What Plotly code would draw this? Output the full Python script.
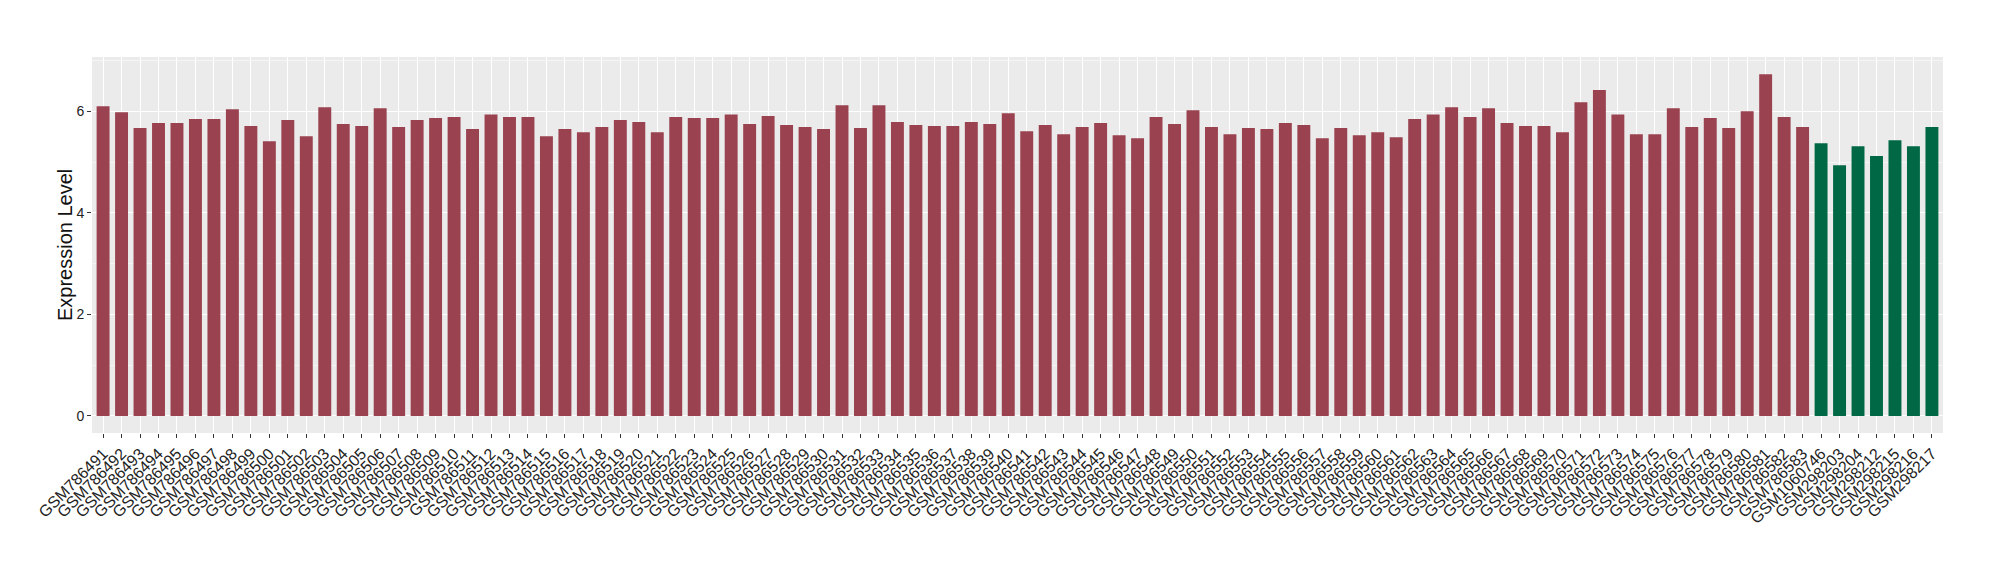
import plotly.graph_objects as go

samples = [f"GSM{n}" for n in range(786491, 786584)] + [
    "GSM1060746", "GSM298203", "GSM298204", "GSM298212", "GSM298215", "GSM298216", "GSM298217"]

values = [
    6.10, 5.98, 5.67, 5.77, 5.77, 5.85, 5.85, 6.04, 5.71, 5.41,
    5.83, 5.51, 6.08, 5.75, 5.71, 6.06, 5.69, 5.83, 5.87, 5.89,
    5.65, 5.94, 5.89, 5.89, 5.51, 5.65, 5.59, 5.69, 5.83, 5.79,
    5.59, 5.89, 5.87, 5.87, 5.94, 5.75, 5.91, 5.73, 5.69, 5.65,
    6.12, 5.67, 6.12, 5.79, 5.73, 5.71, 5.71, 5.79, 5.75, 5.96,
    5.61, 5.73, 5.55, 5.69, 5.77, 5.53, 5.47, 5.89, 5.75, 6.02,
    5.69, 5.55, 5.67, 5.65, 5.77, 5.73, 5.47, 5.67, 5.53, 5.59,
    5.49, 5.85, 5.94, 6.08, 5.89, 6.06, 5.77, 5.71, 5.71, 5.59,
    6.18, 6.42, 5.94, 5.55, 5.55, 6.06, 5.69, 5.87, 5.67, 6.00,
    6.73, 5.89, 5.69,
    5.37, 4.94, 5.31, 5.12, 5.43, 5.31, 5.69,
]

groups = ["A"] * 93 + ["B"] * 7
group_colors = {"A": "#9A4250", "B": "#006845"}
colors = [group_colors[g] for g in groups]

y_title = "Expression Level"

fig = go.Figure(go.Bar(
    x=samples, y=values, marker=dict(color=colors, line=dict(width=0)),
    width=0.7, showlegend=False,
))

font_family = "Liberation Sans, Arial, sans-serif"
# page body has an 8px margin, so the figure is 16px smaller than the window
fig.update_layout(
    width=1984, height=564,
    margin=dict(l=84, r=49, t=49, b=139),
    plot_bgcolor="#EBEBEB", paper_bgcolor="white",
    font=dict(family=font_family, color="#222222"),
    bargap=0.3,
)
fig.update_xaxes(
    type="category", range=[-0.6, len(samples) - 0.4], automargin=False,
    tickmode="linear", tick0=0, dtick=1,
    tickangle=-45, tickfont=dict(size=16, color="#222222"),
    showgrid=True, gridcolor="white", gridwidth=1.2,
    ticks="outside", ticklen=4, tickcolor="#333333", tickwidth=1,
    showline=False, zeroline=False,
)
fig.update_yaxes(
    range=[-0.335, 7.07], tickvals=[0, 2, 4, 6], automargin=False,
    tickfont=dict(size=14, color="#222222"),
    showgrid=True, gridcolor="white", gridwidth=1.4,
    minor=dict(tickvals=[1, 3, 5, 7], showgrid=True, gridcolor="#F5F5F5", gridwidth=0.7, ticks=""),
    ticks="outside", ticklen=4, tickcolor="#333333", tickwidth=1,
    zeroline=False, showline=False,
)
fig.add_annotation(
    text=y_title, xref="paper", yref="paper", x=0, y=0.5,
    xanchor="center", yanchor="middle", xshift=-27, textangle=-90,
    showarrow=False, font=dict(size=20, color="#111111", family=font_family),
)

fig.write_html("out.html")
